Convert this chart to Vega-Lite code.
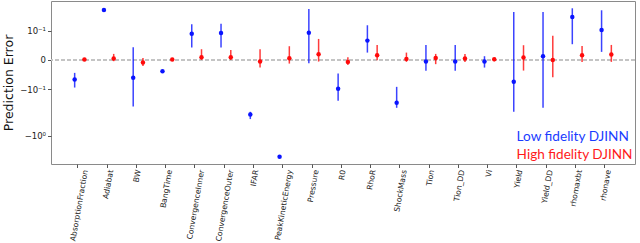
{
  "$schema": "https://vega.github.io/schema/vega-lite/v6.json",
  "width": 584,
  "height": 163,
  "autosize": "none",
  "padding": {"left": 51, "top": 1, "right": 5, "bottom": 79},
  "background": "white",
  "config": {
    "view": {"stroke": "#8a8a8a", "strokeWidth": 1},
    "font": "DejaVu Sans"
  },
  "data": {"values": [
    {"param": "AbsorptionFraction", "series": "Low fidelity DJINN", "value": -0.0533, "lo": -0.0913, "hi": -0.030},
    {"param": "Adiabat", "series": "Low fidelity DJINN", "value": 0.3004, "lo": 0.3004, "hi": 0.3004},
    {"param": "BW", "series": "Low fidelity DJINN", "value": -0.0467, "lo": -0.2557, "hi": 0.0291},
    {"param": "BangTime", "series": "Low fidelity DJINN", "value": -0.025, "lo": -0.025, "hi": -0.025},
    {"param": "ConvergenceInner", "series": "Low fidelity DJINN", "value": 0.0837, "lo": 0.0279, "hi": 0.1449},
    {"param": "ConvergenceOuter", "series": "Low fidelity DJINN", "value": 0.0875, "lo": 0.0279, "hi": 0.1497},
    {"param": "IFAR", "series": "Low fidelity DJINN", "value": -0.376, "lo": -0.466, "hi": -0.331},
    {"param": "PeakKineticEnergy", "series": "Low fidelity DJINN", "value": -2.485, "lo": -2.485, "hi": -2.485},
    {"param": "Pressure", "series": "Low fidelity DJINN", "value": 0.0891, "lo": -0.0061, "hi": 0.3153},
    {"param": "R0", "series": "Low fidelity DJINN", "value": -0.0988, "lo": -0.1918, "hi": -0.0321},
    {"param": "RhoR", "series": "Low fidelity DJINN", "value": 0.0517, "lo": 0.0148, "hi": 0.1371},
    {"param": "ShockMass", "series": "Low fidelity DJINN", "value": -0.2125, "lo": -0.2726, "hi": -0.0875},
    {"param": "Tion", "series": "Low fidelity DJINN", "value": -0.003, "lo": -0.0242, "hi": 0.0362},
    {"param": "Tion_DD", "series": "Low fidelity DJINN", "value": -0.003, "lo": -0.0242, "hi": 0.0362},
    {"param": "Vi", "series": "Low fidelity DJINN", "value": -0.003, "lo": -0.0157, "hi": 0.0069},
    {"param": "Yield", "series": "Low fidelity DJINN", "value": -0.0629, "lo": -0.3307, "hi": 0.2726},
    {"param": "Yield_DD", "series": "Low fidelity DJINN", "value": 0.0069, "lo": -0.2726, "hi": 0.2726},
    {"param": "rhomaxbt", "series": "Low fidelity DJINN", "value": 0.2125, "lo": 0.0386, "hi": 0.326},
    {"param": "rhonave", "series": "Low fidelity DJINN", "value": 0.1049, "lo": 0.0165, "hi": 0.2961},
    {"param": "AbsorptionFraction", "series": "High fidelity DJINN", "value": 0.0005, "lo": 0.0005, "hi": 0.0005},
    {"param": "Adiabat", "series": "High fidelity DJINN", "value": 0.0023, "lo": -0.0023, "hi": 0.0118},
    {"param": "BW", "series": "High fidelity DJINN", "value": -0.0049, "lo": -0.0118, "hi": 0.0036},
    {"param": "BangTime", "series": "High fidelity DJINN", "value": 0.0005, "lo": 0.0005, "hi": 0.0005},
    {"param": "ConvergenceInner", "series": "High fidelity DJINN", "value": 0.0049, "lo": 0.0, "hi": 0.0234},
    {"param": "ConvergenceOuter", "series": "High fidelity DJINN", "value": 0.0049, "lo": 0.0, "hi": 0.0215},
    {"param": "IFAR", "series": "High fidelity DJINN", "value": -0.003, "lo": -0.0157, "hi": 0.0234},
    {"param": "PeakKineticEnergy", "series": "High fidelity DJINN", "value": 0.003, "lo": -0.0069, "hi": 0.0321},
    {"param": "Pressure", "series": "High fidelity DJINN", "value": 0.0111, "lo": -0.003, "hi": 0.0586},
    {"param": "R0", "series": "High fidelity DJINN", "value": -0.0036, "lo": -0.0096, "hi": 0.0049},
    {"param": "RhoR", "series": "High fidelity DJINN", "value": 0.009, "lo": -0.0005, "hi": 0.0362},
    {"param": "ShockMass", "series": "High fidelity DJINN", "value": 0.0018, "lo": -0.0036, "hi": 0.0148},
    {"param": "Tion", "series": "High fidelity DJINN", "value": 0.0036, "lo": -0.0081, "hi": 0.0118},
    {"param": "Tion_DD", "series": "High fidelity DJINN", "value": 0.0023, "lo": -0.0036, "hi": 0.0118},
    {"param": "Vi", "series": "High fidelity DJINN", "value": 0.0012, "lo": -0.0023, "hi": 0.0036},
    {"param": "Yield", "series": "High fidelity DJINN", "value": 0.0042, "lo": -0.0234, "hi": 0.0353},
    {"param": "Yield_DD", "series": "High fidelity DJINN", "value": 0.0, "lo": -0.0441, "hi": 0.0736},
    {"param": "rhomaxbt", "series": "High fidelity DJINN", "value": 0.009, "lo": -0.0036, "hi": 0.033},
    {"param": "rhonave", "series": "High fidelity DJINN", "value": 0.0103, "lo": -0.0036, "hi": 0.0362}
  ]},
  "encoding": {
    "x": {
      "field": "param", "type": "nominal", "sort": null,
      "scale": {"type": "band", "paddingInner": 0, "paddingOuter": 0.475},
      "axis": {
        "title": null, "domain": false, "grid": false,
        "bandPosition": 0.443,
        "labelAngle": -80, "labelFont": "DejaVu Sans", "labelFontSize": 7.7,
        "labelColor": "#222", "tickColor": "#555", "tickSize": 3.5, "labelPadding": 2,
        "labelOffset": {"expr": "length(datum.label) * 0.35"}
      }
    },
    "xOffset": {
      "field": "series", "type": "nominal",
      "scale": {"type": "point", "padding": 3.93, "domain": ["Low fidelity DJINN", "High fidelity DJINN"]}
    },
    "color": {
      "field": "series", "type": "nominal",
      "scale": {"domain": ["Low fidelity DJINN", "High fidelity DJINN"], "range": ["#0a14ff", "#ff0a0a"]},
      "legend": {
        "title": null, "orient": "bottom-right", "offset": 2, "padding": 0,
        "symbolOpacity": 0, "symbolSize": 0, "symbolStrokeWidth": 0, "labelOffset": 0,
        "rowPadding": 3.5, "labelFont": "Lato", "labelFontSize": 13.6, "labelLimit": 300,
        "labelColor": {"expr": "datum.label == 'Low fidelity DJINN' ? '#1a3cff' : '#ff1a1a'"}
      }
    }
  },
  "layer": [
    {
      "mark": {"type": "rule", "strokeDash": [4, 2], "color": "#c4c4c4", "strokeWidth": 1.2},
      "encoding": {"y": {"datum": 0}, "x": null, "xOffset": null, "color": null}
    },
    {
      "mark": {"type": "rule", "strokeWidth": 1.5, "opacity": 0.8},
      "encoding": {
        "y": {"field": "lo", "type": "quantitative"},
        "y2": {"field": "hi"}
      }
    },
    {
      "mark": {"type": "point", "filled": true, "opacity": 1, "size": 20},
      "encoding": {
        "y": {
          "field": "value", "type": "quantitative",
          "scale": {"type": "symlog", "constant": 0.0405, "domain": [-3.406, 0.4598], "nice": false, "zero": false},
          "axis": {
            "title": "Prediction Error", "titleFont": "DejaVu Sans", "titleFontSize": 12.5, "titleFontWeight": "normal",
            "titleColor": "#111", "titlePadding": 4,
            "values": [-1, -0.1, 0, 0.1], "grid": false, "domain": false,
            "labelFont": "DejaVu Sans", "labelFontSize": 8.5, "labelColor": "#222",
            "tickColor": "#555", "tickSize": 3.5, "labelPadding": 2,
            "labelExpr": "datum.value == 0.1 ? '10⁻¹' : datum.value == 0 ? '0' : datum.value == -0.1 ? '−10⁻¹' : '−10⁰'"
          }
        }
      }
    }
  ]
}
